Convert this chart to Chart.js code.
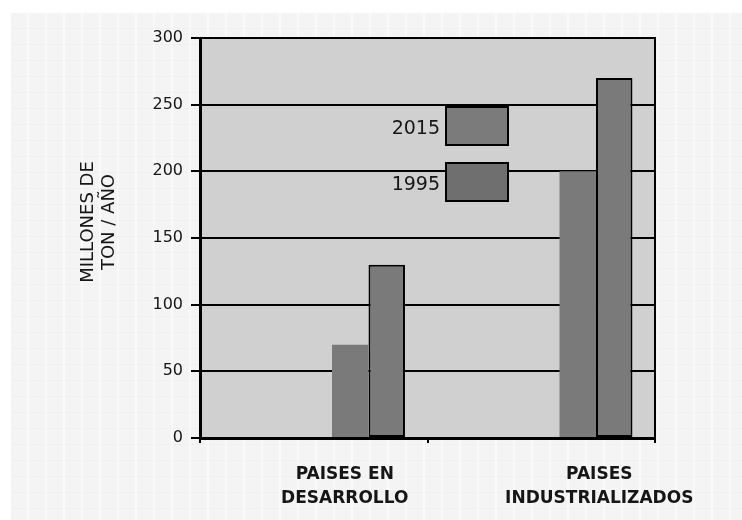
<!DOCTYPE html>
<html><head><meta charset="utf-8">
<script src="https://cdn.jsdelivr.net/npm/chart.js@4"></script>
<style>
html,body{margin:0;padding:0;background:#fff;}
#wrap{position:relative;width:742px;height:520px;overflow:hidden;}
#panel{position:absolute;left:11px;top:13px;right:0;bottom:0;background-color:#f4f4f4;
 background-image:
  repeating-linear-gradient(90deg, rgba(255,255,255,0) 0 16px, rgba(255,255,255,0.5) 16px 18px),
  repeating-linear-gradient(180deg, rgba(0,0,0,0) 0 15px, rgba(0,0,0,0.018) 15px 16px);}
canvas{position:absolute;left:0;top:0;}
</style></head><body>
<div id="wrap"><div id="panel"></div><canvas id="c" width="742" height="520"></canvas></div>
<script>
// ---- data ----
const categories = [['PAISES EN', 'DESARROLLO'], ['PAISES', 'INDUSTRIALIZADOS']];
const seriesNames = ['1995', '2015'];
const values1995 = [70, 200];
const values2015 = [130, 270];
const yTicks = [0, 50, 100, 150, 200, 250, 300];
const yTitle = ['MILLONES DE', 'TON / AÑO'];
const emptySlot = [null, null];

const spacer = () => ({ label: '', data: emptySlot, backgroundColor: 'rgba(0,0,0,0)', isSpacer: true });

const decor = {
  id: 'decor',
  beforeDraw(chart, args, o) {
    const { ctx, chartArea: a } = chart;
    ctx.save();
    ctx.fillStyle = o.plotBg;
    ctx.fillRect(a.left, a.top, a.right - a.left, a.bottom - a.top);
    ctx.restore();
  },
  afterDraw(chart, args, o) {
    const { ctx, chartArea: a } = chart;
    ctx.save();
    // right frame
    ctx.strokeStyle = '#000';
    ctx.lineWidth = 2;
    ctx.beginPath();
    ctx.moveTo(a.right, a.top - 1);
    ctx.lineTo(a.right, a.bottom);
    ctx.stroke();
    // y title
    ctx.fillStyle = o.textColor;
    ctx.textAlign = 'center';
    ctx.textBaseline = 'middle';
    ctx.font = o.titleFont;
    yTitle.forEach((line, i) => {
      ctx.save();
      ctx.translate(o.titleX + i * o.titleGap, o.titleY);
      ctx.rotate(-Math.PI / 2);
      ctx.fillText(line, 0, 0);
      ctx.restore();
    });
    // category labels
    const xs = chart.scales.x;
    ctx.font = o.catFont;
    categories.forEach((lines, i) => {
      const x = xs.getPixelForValue(i) + o.catShift[i];
      lines.forEach((ln, j) => ctx.fillText(ln, x, o.catY + j * o.catGap));
    });
    // legend (2015 above 1995)
    const entries = chart.data.datasets.filter(d => !d.isSpacer).slice().reverse();
    entries.forEach((ds, k) => {
      const top = o.legendTop + k * o.legendGap;
      ctx.fillStyle = ds.legendColor || ds.backgroundColor;
      ctx.fillRect(o.legendX, top, o.boxW, o.boxH);
      ctx.strokeStyle = '#000';
      ctx.lineWidth = 2;
      ctx.strokeRect(o.legendX, top, o.boxW, o.boxH);
      ctx.fillStyle = o.textColor;
      ctx.font = o.legendFont;
      ctx.textAlign = 'right';
      ctx.fillText(ds.label, o.legendX - 6, top + o.boxH / 2 + 3);
      ctx.textAlign = 'center';
    });
    ctx.restore();
  }
};

new Chart(document.getElementById('c'), {
  type: 'bar',
  data: {
    labels: categories.map(c => c.join(' ')),
    datasets: [
      spacer(), spacer(), spacer(),
      { label: seriesNames[0], data: values1995, backgroundColor: '#7a7a7a', legendColor: '#6f6f6f', borderWidth: 0 },
      { label: seriesNames[1], data: values2015, backgroundColor: '#7a7a7a', legendColor: '#7b7b7b', borderColor: '#000', borderWidth: 2, borderSkipped: false }
    ]
  },
  options: {
    responsive: false,
    animation: false,
    events: [],
    layout: { padding: { left: 0, top: 38, right: 87, bottom: 0 } },
    datasets: { bar: { categoryPercentage: 0.802, barPercentage: 1 } },
    plugins: {
      legend: { display: false },
      tooltip: { enabled: false },
      decor: {
        plotBg: '#d0d0d0',
        textColor: '#161616',
        titleFont: 'normal 18px "DejaVu Sans"',
        titleX: 88, titleY: 222, titleGap: 21,
        catFont: 'bold 17px "DejaVu Sans"',
        catShift: [31, 58], catY: 475, catGap: 24,
        legendFont: 'normal 19px "DejaVu Sans"',
        legendX: 446, legendTop: 107, legendGap: 56, boxW: 62, boxH: 38
      }
    },
    scales: {
      x: {
        z: 1,
        afterFit: s => { s.height = 82; },
        ticks: { display: false },
        grid: { display: true, drawOnChartArea: false, drawTicks: true, tickLength: 5, color: '#000', lineWidth: 2 },
        border: { display: true, color: '#000', width: 3 }
      },
      y: {
        min: 0, max: 300,
        afterFit: s => { s.width = 200; },
        afterBuildTicks: s => { s.ticks = yTicks.map(v => ({ value: v })); },
        ticks: { padding: 8, color: '#161616', font: { family: 'DejaVu Sans', size: 16 } },
        grid: { color: '#000', lineWidth: 2, drawTicks: true, tickLength: 9, tickColor: '#000' },
        border: { display: true, color: '#000', width: 3 }
      }
    }
  },
  plugins: [decor]
});
</script>
</body></html>
